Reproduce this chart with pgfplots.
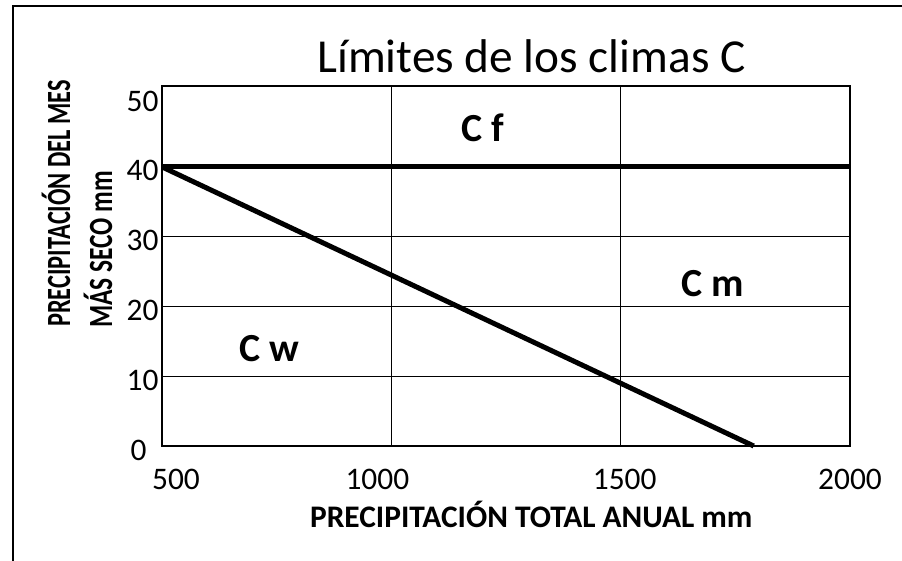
\documentclass[border=0pt]{standalone}
\usepackage{pgfplots}
\pgfplotsset{compat=1.18}
\usepackage{fontspec}
\setmainfont{Carlito}
\begin{document}
\begin{tikzpicture}[x=1bp,y=1bp]
\useasboundingbox (0,0) rectangle (902,561);
\draw[line width=1.8bp] (13,0) -- (13,555) -- (902,555);
\begin{axis}[
  at={(162bp,115bp)}, anchor=south west,
  scale only axis, width=688bp, height=360bp,
  xmin=500, xmax=2000, ymin=0, ymax=51.6,
  xtick={500,1000,1500,2000},
  xticklabels={\kern28bp 500,1000\kern28bp\relax,\kern8bp 1500,2000},
  ytick={0,10,20,30,40},
  yticklabels={0\kern12bp\relax,10,20,30,40},
  extra y ticks={50}, extra y tick labels={50},
  extra y tick style={grid=none},
  xmajorgrids, ymajorgrids,
  major grid style={line width=1.3bp, black},
  major tick length=0pt,
  axis line style={line width=1.8bp, black},
  /pgf/number format/assume math mode=true,
  /pgf/number format/1000 sep={},
  tick label style={font=\fontsize{31.5}{31.5}\selectfont},
  xticklabel style={yshift=-20bp},
  yticklabel style={yshift=-4bp},
  clip=false,
]
\addplot[black, line width=5bp] coordinates {(500,40) (2000,40)};
\addplot[black, line width=5bp] coordinates {(500,40) (1790,0)};
\node[font=\bfseries\fontsize{40}{40}\selectfont, anchor=base] at (axis cs:1199,43.6) {C f};
\node[font=\bfseries\fontsize{40}{40}\selectfont, anchor=base] at (axis cs:1701,21.4) {C m};
\node[font=\bfseries\fontsize{40}{40}\selectfont, anchor=base] at (axis cs:735,12.1) {C w};
\end{axis}
\node[font=\fontsize{47.5}{47.5}\selectfont, anchor=base, inner sep=0pt] at (531.5,488.7) {Límites de los climas C};
\node[font=\bfseries\fontsize{31.5}{31.5}\selectfont, anchor=base, inner sep=0pt] at (531.3,33.7) {PRECIPITACIÓN TOTAL ANUAL mm};
\node[font=\bfseries\fontsize{34}{34}\selectfont, anchor=base west, inner sep=0pt, rotate=90] at (70,234) {\scalebox{0.72}[1]{PRECIPITACIÓN DEL MES}};
\node[font=\bfseries\fontsize{34}{34}\selectfont, anchor=base west, inner sep=0pt, rotate=90] at (112,233) {\scalebox{0.75}[1]{MÁS SECO mm}};
\end{tikzpicture}
\end{document}
